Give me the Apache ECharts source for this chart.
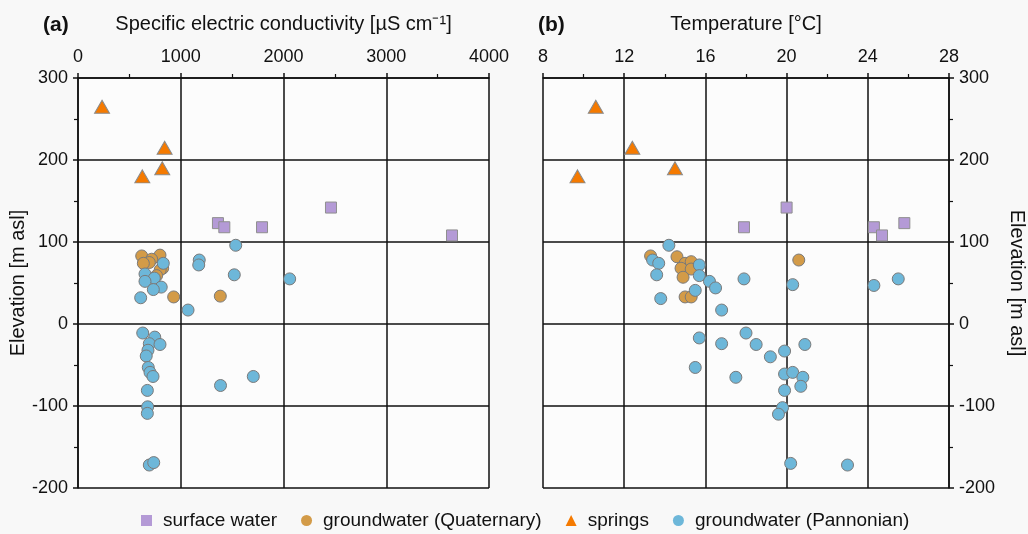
<!DOCTYPE html>
<html>
<head>
<meta charset="utf-8">
<script src="https://cdn.jsdelivr.net/npm/echarts@6/dist/echarts.min.js"></script>
<style>
html,body{margin:0;padding:0;background:#f8f8f8;}
#c{width:1028px;height:534px;}
</style>
</head>
<body>
<div id="c"></div>
<script>
// ---- Panel (a): conductivity [µS/cm], elevation [m asl]
const aSurface = [[1362,123],[1424,118],[1791,118],[2462,142],[3640,108]];
const aQuaternary = [[620,83],[798,84],[717,79],[694,75],[636,74],[824,68],[800,66],[765,59],[931,33],[1385,34]];
const aSprings = [[234,265],[843,215],[820,190],[626,180]];
const aPannonian = [
  [830,74],[652,61],[743,56],[652,52],[810,45],[733,42],[610,32],[1071,17],
  [1180,78],[1175,72],[1535,96],[1521,60],[2060,55],
  [630,-11],[747,-16],[694,-24],[798,-25],[681,-32],[664,-39],[684,-53],[701,-59],[730,-64],
  [675,-81],[1387,-75],[1706,-64],[678,-101],[675,-109],[694,-172],[737,-169]
];
// ---- Panel (b): temperature [°C], elevation [m asl]
const bSurface = [[17.9,118],[20.0,142],[24.3,118],[24.7,108],[25.8,123]];
const bQuaternary = [[13.3,83],[14.6,82],[15.0,74],[15.3,76],[14.8,68],[15.3,67],[14.9,57],[15.0,33],[15.3,33],[20.6,78]];
const bSprings = [[10.6,265],[12.4,215],[14.5,190],[9.7,180]];
const bPannonian = [
  [14.2,96],[13.4,78],[13.7,74],[13.6,60],[13.8,31],[15.7,72],[15.7,59],[16.2,52],[16.5,44],[15.5,41],
  [17.9,55],[20.3,48],[24.3,47],[25.5,55],[16.8,17],
  [15.7,-17],[16.8,-24],[18.0,-11],[15.5,-53],[17.5,-65],[18.5,-25],[19.2,-40],[19.9,-33],[20.9,-25],
  [19.9,-61],[20.3,-59],[20.8,-65],[20.7,-76],[19.9,-81],[19.8,-102],[19.6,-110],[20.2,-170],[23.0,-172]
];
const xTicksA = [0, 1000, 4000]; // min, interval, max
const xTicksB = [8, 4, 28];
const yTicks = [-200, 100, 300];

const FONT = "'Liberation Sans', Arial, sans-serif";
const COL = {surface:'#b49ad6', quat:'#d39b48', spring:'#f57a00', pann:'#6db7d9'};

function xAxis(idx, ticks, name){
  return {
    type:'value', gridIndex:idx, position:'top', min:ticks[0], interval:ticks[1], max:ticks[2],
    name:name, nameLocation:'middle', nameGap:44,
    nameTextStyle:{fontFamily:FONT, fontSize:20, color:'#111'},
    axisLine:{show:true, onZero:false, lineStyle:{color:'#111', width:1.5}},
    axisTick:{show:true, length:5, lineStyle:{color:'#111', width:1.5}},
    minorTick:{show:true, splitNumber:2, length:4, lineStyle:{color:'#111', width:1.2}},
    axisLabel:{fontFamily:FONT, fontSize:18, color:'#111', margin:12, formatter:(v)=>String(v)},
    splitLine:{show:true, lineStyle:{color:'#111', width:1.5}}
  };
}
function yAxis(idx, pos){
  return {
    type:'value', gridIndex:idx, position:pos, min:yTicks[0], interval:yTicks[1], max:yTicks[2],
    name:'Elevation [m asl]', nameLocation:'middle', nameGap:pos==='left'?50:58,
    nameRotate: pos==='left'?90:-90,
    nameTextStyle:{fontFamily:FONT, fontSize:20, color:'#111'},
    axisLine:{show:true, onZero:false, lineStyle:{color:'#111', width:1.5}},
    axisTick:{show:true, length:5, lineStyle:{color:'#111', width:1.5}},
    minorTick:{show:true, splitNumber:2, length:4, lineStyle:{color:'#111', width:1.2}},
    axisLabel:{fontFamily:FONT, fontSize:18, color:'#111', margin:10, formatter:(v)=>String(v)},
    splitLine:{show:true, lineStyle:{color:'#111', width:1.5}}
  };
}
function series(idx, s, q, sp, p){
  return [
    {name:'surface water', type:'scatter', xAxisIndex:idx, yAxisIndex:idx, data:s, symbol:'rect', symbolSize:11,
     itemStyle:{color:COL.surface, borderColor:'#8f8f8f', borderWidth:1, opacity:1}},
    {name:'groundwater (Quaternary)', type:'scatter', xAxisIndex:idx, yAxisIndex:idx, data:q, symbol:'circle', symbolSize:12,
     itemStyle:{color:COL.quat, borderColor:'#7a7a7a', borderWidth:1, opacity:1}},
    {name:'springs', type:'scatter', xAxisIndex:idx, yAxisIndex:idx, data:sp, symbol:'triangle', symbolSize:[15,13],
     itemStyle:{color:COL.spring, borderColor:'#8a8a8a', borderWidth:1, opacity:1}},
    {name:'groundwater (Pannonian)', type:'scatter', xAxisIndex:idx, yAxisIndex:idx, data:p, symbol:'circle', symbolSize:12,
     itemStyle:{color:COL.pann, borderColor:'#7a7a7a', borderWidth:1, opacity:1}}
  ];
}

const chart = echarts.init(document.getElementById('c'), null, {renderer:'canvas'});
chart.setOption({
  backgroundColor:'#f8f8f8',
  animation:false,
  title:[
    {text:'(a)', left:38, top:10, textStyle:{fontFamily:FONT, fontSize:21, fontWeight:'bold', color:'#111'}},
    {text:'(b)', left:533, top:10, textStyle:{fontFamily:FONT, fontSize:21, fontWeight:'bold', color:'#111'}}
  ],
  grid:[
    {left:78, right:539, top:78, bottom:46, containLabel:false, show:true, backgroundColor:'#fcfcfc', borderWidth:0},
    {left:543, right:73, top:78, bottom:46, containLabel:false, show:true, backgroundColor:'#fcfcfc', borderWidth:0}
  ],
  xAxis:[
    xAxis(0, xTicksA, 'Specific electric conductivity [µS cm⁻¹]'),
    xAxis(1, xTicksB, 'Temperature [°C]')
  ],
  yAxis:[ yAxis(0,'left'), yAxis(1,'right') ],
  legend:{
    left:136, top:506, itemGap:24, itemWidth:11, itemHeight:11,
    textStyle:{fontFamily:FONT, fontSize:19, color:'#111', padding:[0,0,0,6]},
    data:[
      {name:'surface water', icon:'rect', itemStyle:{borderWidth:0, opacity:1}},
      {name:'groundwater (Quaternary)', icon:'circle', itemStyle:{borderWidth:0, opacity:1}},
      {name:'springs', icon:'triangle', itemStyle:{borderWidth:0, opacity:1}},
      {name:'groundwater (Pannonian)', icon:'circle', itemStyle:{borderWidth:0, opacity:1}}
    ]
  },
  series:[].concat(
    series(0, aSurface, aQuaternary, aSprings, aPannonian),
    series(1, bSurface, bQuaternary, bSprings, bPannonian)
  )
});
</script>
</body>
</html>
